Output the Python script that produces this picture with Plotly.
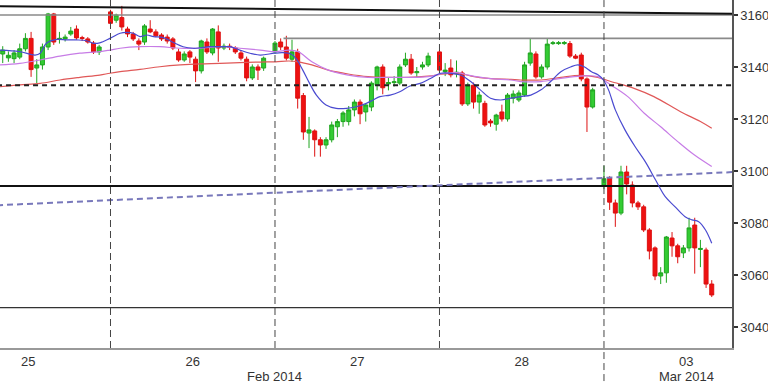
import plotly.graph_objects as go

# ---------------- DATA ----------------
# bar slot index (29 slots per trading day, first bar of each day sits on the day separator)
slots = [10, 11, 12, 13, 14, 15, 16, 17, 18, 19, 20, 21, 22, 23, 24, 25, 26, 27,
         29, 30, 31, 32, 33, 34, 35, 36, 37, 38, 39, 40, 41, 42, 43, 44, 45, 46, 47, 48, 49, 50, 51, 52, 53, 54, 55, 56,
         58, 59, 60, 61, 62, 63, 64, 65, 66, 67, 68, 69, 70, 71, 72, 73, 74, 75, 76, 77, 78, 79, 80, 81, 82, 83, 84, 85,
         87, 88, 89, 90, 91, 92, 93, 94, 95, 96, 97, 98, 99, 100, 101, 102, 103, 104, 105, 106, 107, 108, 109, 110, 111, 112, 113, 114,
         116, 117, 118, 119, 120, 121, 122, 123, 124, 125, 126, 127, 128, 129, 130, 131, 132, 133, 134, 135]

opens = [3145.0, 3143.5, 3143.2, 3143.8, 3147.0, 3151.0, 3139.6, 3140.8, 3147.7, 3160.4, 3150.6, 3150.8, 3152.7, 3154.6, 3151.3, 3150.8, 3149.2, 3145.8,
         3161.2, 3158.0, 3159.0, 3154.6, 3152.7, 3150.0, 3149.6, 3154.6, 3153.5, 3152.3, 3151.5, 3150.8, 3145.8, 3142.7, 3145.8, 3143.0, 3138.5, 3149.6, 3145.4, 3153.5, 3147.3, 3148.0, 3147.3, 3145.4, 3143.0, 3135.8, 3140.0, 3139.6,
         3145.8, 3149.6, 3147.7, 3143.0, 3145.8, 3129.0, 3114.6, 3115.4, 3112.0, 3110.0, 3112.0, 3117.0, 3119.0, 3119.0, 3123.5, 3126.5, 3122.7, 3124.6, 3133.0, 3140.0, 3133.5, 3134.0, 3133.8, 3140.8, 3143.0, 3137.8, 3140.0, 3140.8,
         3145.8, 3138.2, 3139.6, 3137.4, 3137.7, 3125.8, 3133.0, 3126.5, 3126.0, 3119.2, 3118.0, 3122.7, 3120.0, 3128.0, 3127.3, 3129.2, 3141.5, 3145.0, 3136.2, 3140.0, 3149.0, 3149.0, 3149.0, 3149.0, 3144.2, 3144.6, 3135.4, 3124.6,
         3094.6, 3097.3, 3087.7, 3083.8, 3099.6, 3094.6, 3087.7, 3086.2, 3077.3, 3070.4, 3059.6, 3060.8, 3074.2, 3071.2, 3068.5, 3070.4, 3079.2, 3069.8, 3069.6, 3056.5]

highs = [3148.0, 3146.0, 3146.5, 3149.0, 3153.0, 3153.5, 3143.0, 3149.0, 3160.8, 3160.8, 3153.5, 3152.5, 3155.4, 3156.0, 3152.0, 3151.5, 3150.0, 3148.5,
         3162.0, 3160.5, 3163.5, 3155.5, 3153.5, 3151.0, 3156.5, 3158.0, 3154.5, 3153.0, 3152.5, 3151.5, 3147.0, 3146.0, 3146.5, 3144.0, 3150.5, 3151.0, 3155.0, 3156.0, 3149.0, 3149.0, 3148.0, 3146.5, 3144.0, 3141.0, 3141.0, 3144.0,
         3150.0, 3151.0, 3152.0, 3150.5, 3147.0, 3130.0, 3120.8, 3116.0, 3113.0, 3113.0, 3119.0, 3120.0, 3123.0, 3125.0, 3127.5, 3127.5, 3126.0, 3134.5, 3140.5, 3141.0, 3136.0, 3136.5, 3141.0, 3145.5, 3145.0, 3140.0, 3142.0, 3145.5,
         3146.5, 3141.5, 3143.0, 3142.5, 3138.5, 3134.0, 3134.0, 3130.5, 3127.0, 3120.0, 3122.0, 3125.5, 3130.0, 3131.0, 3131.0, 3142.0, 3150.8, 3146.0, 3141.0, 3151.0, 3150.0, 3150.0, 3150.0, 3150.0, 3145.0, 3145.5, 3136.0, 3132.0,
         3102.0, 3098.0, 3089.0, 3102.0, 3102.0, 3096.0, 3088.5, 3087.0, 3078.0, 3071.0, 3063.0, 3075.0, 3076.5, 3072.0, 3071.5, 3082.0, 3082.0, 3073.5, 3070.5, 3058.0]

lows = [3141.5, 3142.0, 3141.5, 3143.0, 3146.0, 3136.2, 3133.8, 3139.0, 3146.5, 3148.5, 3149.0, 3149.8, 3152.0, 3150.5, 3150.0, 3149.0, 3145.0, 3144.6,
        3156.0, 3157.0, 3154.0, 3151.5, 3150.0, 3146.5, 3148.5, 3153.0, 3151.5, 3150.0, 3149.0, 3146.5, 3142.0, 3142.0, 3141.5, 3134.2, 3137.5, 3145.0, 3144.5, 3142.0, 3146.5, 3146.5, 3145.0, 3142.5, 3134.5, 3135.0, 3135.0, 3138.5,
        3145.0, 3146.5, 3142.5, 3142.0, 3124.0, 3112.0, 3108.8, 3105.5, 3105.5, 3108.5, 3111.0, 3113.0, 3117.0, 3117.5, 3121.0, 3118.0, 3119.0, 3123.0, 3131.0, 3129.5, 3131.0, 3132.5, 3133.0, 3140.0, 3137.0, 3136.0, 3139.0, 3140.0,
        3137.5, 3136.5, 3136.0, 3136.0, 3125.0, 3125.0, 3124.0, 3122.0, 3117.0, 3117.0, 3115.5, 3119.0, 3119.0, 3126.0, 3126.5, 3128.5, 3140.5, 3135.5, 3135.5, 3139.0, 3148.5, 3148.5, 3148.5, 3143.5, 3143.0, 3134.5, 3115.0, 3124.0,
        3093.0, 3085.0, 3078.5, 3083.0, 3091.0, 3086.0, 3085.0, 3076.5, 3066.0, 3058.0, 3056.5, 3057.0, 3067.0, 3064.5, 3066.5, 3069.0, 3060.5, 3063.0, 3055.0, 3051.5]

closes = [3146.5, 3144.5, 3145.4, 3147.0, 3151.0, 3139.0, 3140.8, 3147.7, 3160.4, 3149.6, 3151.0, 3151.5, 3153.8, 3151.2, 3151.0, 3149.6, 3145.8, 3147.7,
          3156.8, 3160.0, 3155.4, 3152.7, 3150.8, 3148.8, 3155.8, 3153.5, 3152.0, 3150.8, 3150.0, 3147.3, 3142.7, 3145.0, 3143.8, 3138.5, 3150.0, 3145.8, 3154.6, 3147.3, 3148.0, 3147.5, 3145.8, 3143.4, 3135.8, 3140.0, 3138.8, 3143.4,
          3149.2, 3147.7, 3143.4, 3145.8, 3128.0, 3115.0, 3115.8, 3112.0, 3110.0, 3112.0, 3117.7, 3119.0, 3122.3, 3123.5, 3126.5, 3122.0, 3125.4, 3133.8, 3140.0, 3132.0, 3134.0, 3134.3, 3140.0, 3143.0, 3137.7, 3138.2, 3140.8, 3144.2,
          3138.8, 3138.8, 3137.0, 3138.0, 3125.8, 3133.0, 3126.5, 3129.2, 3117.7, 3118.5, 3121.5, 3120.0, 3129.2, 3129.6, 3130.0, 3140.8, 3145.4, 3136.2, 3140.0, 3148.8, 3149.3, 3149.3, 3149.4, 3144.2, 3143.4, 3135.4, 3124.6, 3131.2,
          3097.0, 3088.0, 3083.8, 3099.6, 3095.0, 3087.7, 3086.2, 3077.3, 3069.2, 3059.6, 3060.8, 3074.6, 3071.2, 3067.0, 3070.4, 3078.1, 3070.4, 3070.2, 3056.5, 3052.3]

# moving averages (slot, value)
ma_fast_x = [9.5, 13, 15.7, 16.6, 17.7, 19.5, 21.3, 23, 24.8, 26, 27.1, 28.9, 30.7, 31.9, 33, 34.2, 35.4, 36.6, 38.3, 40.1, 41.8, 43.6, 44.8, 46.5, 48.3, 50.1, 51.8, 53.6, 55.4,
             57.9, 59.4, 60.8, 61.7, 62.9, 64.1, 65.3, 67, 68.8, 70.6, 72.3, 74.1, 75.3, 76.5, 78.3, 80, 81.8, 83.6, 85.4, 87.2, 88.9, 90.7, 92.5, 94.2, 96, 97.8, 99.6,
             101.3, 103.1, 104.9, 106.6, 108.4, 110.2, 111.4, 112.5, 113.8, 115, 115.9, 116.8, 118, 119.7, 121.5, 123.3, 125.1, 126.8, 128.5, 130.3, 131.5, 132.7, 133.9, 135]
ma_fast_y = [3146.5, 3145.9, 3144.6, 3145.3, 3149.1, 3150.6, 3150.4, 3150.4, 3150.1, 3149.1, 3149.3, 3151.0, 3153.0, 3153.3, 3153.0, 3151.7, 3152.3, 3151.7, 3151.3, 3149.4, 3147.8, 3147.2, 3147.4, 3147.8, 3147.8, 3147.8, 3146.5, 3145.3, 3144.6,
             3145.3, 3145.5, 3145.0, 3143.3, 3138.8, 3133.7, 3129.2, 3125.4, 3124.1, 3124.1, 3124.7, 3126.0, 3127.3, 3128.6, 3129.2, 3130.5, 3132.7, 3133.7, 3135.6, 3137.6, 3137.6, 3136.9, 3134.4, 3131.2, 3128.0, 3127.3, 3128.0,
             3128.6, 3129.2, 3131.2, 3134.4, 3138.2, 3140.1, 3140.8, 3140.1, 3138.2, 3136.9, 3135.0, 3131.2, 3123.5, 3115.8, 3109.3, 3103.5, 3096.5, 3090.1, 3086.3, 3082.4, 3081.2, 3080.5, 3077.3, 3072.2]

ma_mid_x = [9.5, 13, 16.6, 20.1, 23.6, 27.1, 28.9, 30.7, 34.2, 37.7, 41.3, 44.8, 48.3, 51.8, 55.4, 58.1, 60.4, 62.1, 64.5, 67.4, 70.9, 74.4, 77.9, 81.5, 85,
            87.9, 90.3, 92.1, 95.6, 99.6, 101.3, 104.9, 108.4, 111.9, 114.9, 117.2, 120.2, 123.1, 126, 129, 131.9, 135]
ma_mid_y = [3140.8, 3141.4, 3142.7, 3144.2, 3145.3, 3145.9, 3146.5, 3147.2, 3147.8, 3147.8, 3147.2, 3147.2, 3147.8, 3147.2, 3146.5, 3145.9, 3146.5, 3145.9, 3142.0, 3138.8, 3136.9, 3136.0, 3136.0, 3136.0, 3136.3,
            3137.6, 3137.8, 3136.9, 3135.6, 3135.0, 3134.4, 3134.4, 3135.6, 3136.5, 3136.3, 3133.1, 3128.6, 3122.2, 3117.0, 3111.3, 3106.2, 3101.7]

ma_slow_x = [9.5, 13, 16.6, 20.1, 23.6, 27.1, 28.9, 30.7, 34.2, 37.7, 41.3, 44.8, 48.3, 51.8, 55.4, 58.1, 60.4, 62.1, 64.5, 67.4, 70.9, 74.4, 77.9, 81.5, 85,
             87.9, 90.3, 92.6, 95.6, 99.6, 101.3, 104.9, 108.4, 111.9, 114.9, 117.2, 121.3, 124.8, 129.5, 133, 135]
ma_slow_y = [3132.4, 3133.1, 3133.7, 3135.0, 3136.0, 3136.9, 3137.6, 3138.2, 3139.1, 3140.1, 3140.8, 3141.2, 3141.4, 3141.7, 3141.9, 3142.0, 3142.3, 3142.0, 3140.8, 3138.8, 3137.3, 3136.3, 3136.0, 3136.0, 3136.5,
             3137.3, 3137.6, 3136.5, 3135.6, 3135.2, 3135.0, 3135.0, 3136.0, 3136.8, 3136.0, 3134.4, 3131.8, 3128.6, 3122.8, 3119.0, 3116.4]

# drawn support / resistance lines
edge_x = [9.0, 139.0]
top_trend_y = [3163.4, 3160.5]
blue_trend_y = [3086.8, 3099.6]
level_3160 = 3160.0
level_3151 = 3151.0
level_3151_start = 59.5
level_3133 = 3133.0
level_3094 = 3094.2
level_3047 = 3047.4

day_starts = [29, 58, 87, 116]
day_tick_pos = [14.5, 43.5, 72.5, 101.5, 130.5]
day_tick_text = ["25", "26", "27", "28", "03"]
month_pos = [58, 130.5]
month_text = ["Feb 2014", "Mar 2014"]
y_ticks = [3040, 3060, 3080, 3100, 3120, 3140, 3160]

# ---------------- FIGURE ----------------
fig = go.Figure()

def hline(x, y, color, width, dash="solid"):
    fig.add_trace(go.Scatter(x=x, y=y, mode="lines", hoverinfo="skip", showlegend=False,
                             line=dict(color=color, width=width, dash=dash)))

hline(edge_x, [level_3160, level_3160], "#8a8a8a", 1.5)
hline([level_3151_start, edge_x[1]], [level_3151, level_3151], "#8a8a8a", 1.8)
hline(edge_x, [level_3094, level_3094], "#111111", 2)
hline(edge_x, [level_3047, level_3047], "#333333", 1.3)
hline(edge_x, blue_trend_y, "#7878bb", 2, "6px,4px")

fig.add_trace(go.Candlestick(
    x=slots, open=opens, high=highs, low=lows, close=closes,
    increasing=dict(line=dict(color="#1fa51f", width=1), fillcolor="#33cc33"),
    decreasing=dict(line=dict(color="#dd1111", width=1), fillcolor="#ee1111"),
    whiskerwidth=0, hoverinfo="skip", showlegend=False))

fig.add_trace(go.Scatter(x=ma_slow_x, y=ma_slow_y, mode="lines", line=dict(color="#e05858", width=1.2, shape="spline"),
                         hoverinfo="skip", showlegend=False))
fig.add_trace(go.Scatter(x=ma_mid_x, y=ma_mid_y, mode="lines", line=dict(color="#c77ce6", width=1.2, shape="spline"),
                         hoverinfo="skip", showlegend=False))
fig.add_trace(go.Scatter(x=ma_fast_x, y=ma_fast_y, mode="lines", line=dict(color="#4a4ad0", width=1.2, shape="spline"),
                         hoverinfo="skip", showlegend=False))

hline(edge_x, [level_3133, level_3133], "#222222", 2, "5px,4px")
hline(edge_x, top_trend_y, "#111111", 2)

shapes = []
for i, d in enumerate(day_starts):
    shapes.append(dict(type="line", xref="x", yref="paper", x0=d, x1=d,
                       y0=(-0.095 if i == len(day_starts) - 1 else 0), y1=1,
                       line=dict(color="#444444", width=1, dash="7px,4px"), layer="above"))

annotations = [dict(x=p, y=-0.083, xref="x", yref="paper", text=t, showarrow=False,
                    font=dict(size=13, color="#333333"), yanchor="middle")
               for p, t in zip(month_pos, month_text)]

fig.update_layout(
    width=768, height=384,
    margin=dict(l=0, r=36, t=0, b=36),
    paper_bgcolor="white", plot_bgcolor="white",
    font=dict(family="Liberation Sans", size=13, color="#333333"),
    showlegend=False,
    boxgap=0.3, boxgroupgap=0,
    shapes=shapes, annotations=annotations,
    xaxis=dict(range=[9.52, 138.57], showgrid=False, zeroline=False, showline=True,
               linecolor="#999999", linewidth=2, tickvals=day_tick_pos, ticktext=day_tick_text,
               ticks="", rangeslider=dict(visible=False), tickfont=dict(size=13, color="#333333")),
    yaxis=dict(range=[3031.9, 3165.77], side="right", showgrid=False, zeroline=False,
               showline=True, linecolor="#555555", linewidth=1.5, tickvals=y_ticks,
               ticks="outside", ticklen=4, tickwidth=2, tickcolor="#333333",
               tickfont=dict(size=13, color="#333333")),
)

fig.write_html("out.html", config={"displayModeBar": False},
               post_script="document.body.style.margin='0';document.body.style.overflow='hidden';")
